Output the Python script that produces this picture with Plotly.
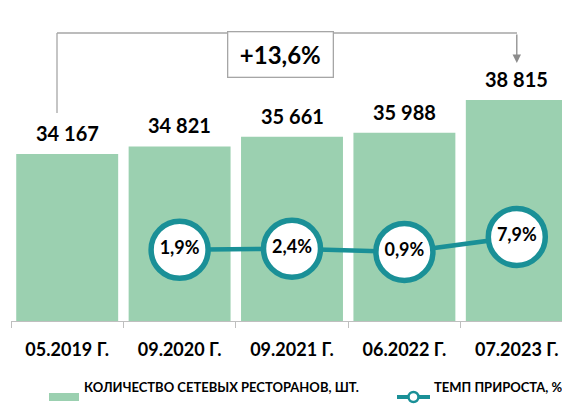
import plotly.graph_objects as go

periods = ["05.2019 Г.", "09.2020 Г.", "09.2021 Г.", "06.2022 Г.", "07.2023 Г."]
restaurants = [34167, 34821, 35661, 35988, 38815]
growth = [None, 1.9, 2.4, 0.9, 7.9]
total_growth = "+13,6%"

bar_name = "КОЛИЧЕСТВО СЕТЕВЫХ РЕСТОРАНОВ, ШТ."
line_name = "ТЕМП ПРИРОСТА, %"

GREEN = "#9bd0b0"
TEAL = "#1a9097"
GREY = "#a6a6a6"
FONT = "Lato"

W, H = 562, 407
X0, X1 = 11, 562     # plot area in pixels
Y0, Y1 = 8, 321


def px(p):
    return (p - X0) / (X1 - X0)


def py(p):
    return (Y1 - p) / (Y1 - Y0)


fig = go.Figure()

fig.add_trace(go.Bar(
    x=periods, y=restaurants, name=bar_name,
    marker=dict(color=GREEN, line=dict(width=0)),
    showlegend=False, yaxis="y",
))

fig.add_trace(go.Scatter(
    x=periods, y=growth, name=line_name, yaxis="y2",
    mode="lines+markers+text",
    line=dict(color=TEAL, width=4.5),
    marker=dict(size=57, color="white", line=dict(color=TEAL, width=5.5)),
    text=[("" if g is None else f"{g:.1f}".replace(".", ",") + "%") for g in growth],
    textposition="middle center",
    textfont=dict(family=FONT, size=18, color="black", weight="bold"),
    showlegend=False, connectgaps=False,
))

# value labels above bars
for p, v in zip(periods, restaurants):
    fig.add_annotation(
        x=p, y=v, xref="x", yref="y", yanchor="bottom", yshift=7,
        text=f"{v:,}".replace(",", " "), showarrow=False,
        font=dict(family=FONT, size=20, color="black", weight="bold"),
    )

# bracket with total growth
line_style = dict(color=GREY, width=1.3)
fig.add_shape(type="line", xref="paper", yref="paper",
              x0=px(57), x1=px(57), y0=py(113), y1=py(33), line=line_style)
fig.add_shape(type="line", xref="paper", yref="paper",
              x0=px(57), x1=px(227), y0=py(33), y1=py(33), line=line_style)
fig.add_shape(type="line", xref="paper", yref="paper",
              x0=px(333), x1=px(517), y0=py(33), y1=py(33), line=line_style)
fig.add_annotation(
    x=periods[-1], y=py(63), xref="x", yref="paper",
    ax=0, ay=-30, showarrow=True, arrowhead=2, arrowsize=1.3,
    arrowwidth=1.3, arrowcolor="#8c8c8c", text="",
)
fig.add_annotation(
    x=px(280), y=py(30.5), xref="paper", yref="paper",
    text=total_growth, showarrow=False, width=100, height=40, borderpad=2,
    bordercolor=GREY, borderwidth=1.3, bgcolor="white",
    font=dict(family=FONT, size=24, color="black", weight="bold"),
)

# custom legend
fig.add_shape(type="rect", xref="paper", yref="paper",
              x0=px(49), x1=px(79), y0=py(401), y1=py(393),
              fillcolor=GREEN, line=dict(width=0))
fig.add_annotation(x=px(82), y=py(397), xref="paper", yref="paper",
                   xanchor="left", text=bar_name, showarrow=False,
                   font=dict(family=FONT, size=13, color="black", weight="bold"))
fig.add_shape(type="line", xref="paper", yref="paper",
              x0=px(397), x1=px(430), y0=py(397), y1=py(397),
              line=dict(color=TEAL, width=4))
fig.add_shape(type="circle", xref="paper", yref="paper",
              x0=px(408.5), x1=px(418.5), y0=py(402), y1=py(392),
              fillcolor="white", line=dict(color=TEAL, width=2.5))
fig.add_annotation(x=px(432), y=py(397), xref="paper", yref="paper",
                   xanchor="left", text=line_name, showarrow=False,
                   font=dict(family=FONT, size=13, color="black", weight="bold"))

fig.update_layout(
    width=W, height=H,
    margin=dict(l=X0, r=W - X1, t=Y0, b=H - Y1, autoexpand=False),
    paper_bgcolor="white", plot_bgcolor="white",
    bargap=0.093,
    showlegend=False,
    xaxis=dict(
        type="category", range=[-0.5, (X1 - X0) / 112.4 - 0.5],
        automargin=False,
        showline=True, linecolor="#bfbfbf", linewidth=1,
        ticks="outside", tickson="boundaries", ticklen=6, tickcolor="#bfbfbf",
        ticklabelstandoff=12,
        tickfont=dict(family=FONT, size=18, color="black", weight="bold"),
        showgrid=False, zeroline=False, fixedrange=True,
    ),
    yaxis=dict(range=[19793, 46734], visible=False, showgrid=False, automargin=False),
    yaxis2=dict(range=[-31.3, 114.7], overlaying="y", visible=False, showgrid=False,
                automargin=False),
)

# drop the default body margin so the 562x407 figure fills the window exactly
fig.write_html("out.html", config={"displayModeBar": False},
               post_script="document.body.style.margin='0';document.body.style.overflow='hidden';")
